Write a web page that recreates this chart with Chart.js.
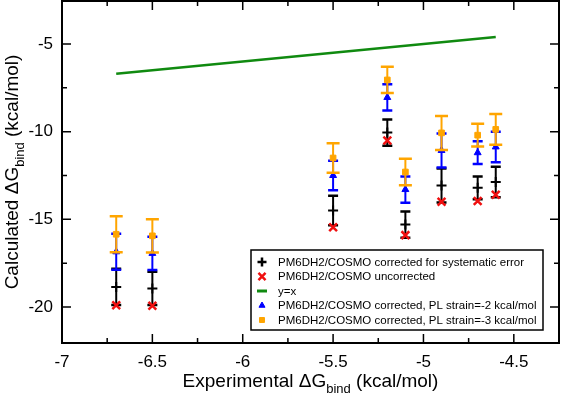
<!DOCTYPE html>
<html>
<head>
<meta charset="utf-8">
<script src="https://cdn.jsdelivr.net/npm/chart.js@4.4.1/dist/chart.umd.min.js"></script>
<style>
  html, body { margin: 0; padding: 0; background: #fff; }
</style>
</head>
<body>
<canvas id="chart" width="562" height="400"></canvas>
<script>
/* =========================
   Calculated vs experimental dG(bind)
   Chart.js v4 + small canvas plugins
========================= */

// values (kcal/mol)
const expDG       = [-6.7, -6.5, -5.5, -5.2, -5.1, -4.9, -4.7, -4.6];
const corrected   = [-18.85, -18.94, -14.5, -10.05, -15.3, -13.07, -13.2, -12.87];
const uncorrected = [-19.9, -19.93, -15.45, -10.5, -15.9, -14.0, -13.95, -13.6];
const strain2     = [-16.85, -16.94, -12.5, -8.05, -13.3, -11.07, -11.2, -10.87];
const strain3     = [-15.85, -15.94, -11.5, -7.05, -12.3, -10.07, -10.2, -9.87];
const errBars     = [1.03, 0.95, 0.84, 0.75, 0.75, 0.97, 0.65, 0.87];
const diagX       = [-6.7, -4.6];

const xTickValues  = [-7, -6.5, -6, -5.5, -5, -4.5];
const xMinorValues = [-6.75, -6.25, -5.75, -5.25, -4.75];
const yTickValues  = [-20, -15, -10, -5];
const yMinorValues = [-17.5, -12.5, -7.5];

const FONT = "'Liberation Sans', Arial, Helvetica, sans-serif";

function pairs(xs, ys) {
  return xs.map((x, i) => ({ x, y: ys[i] }));
}

/* -------------------------------------------------
   PLUGINS
------------------------------------------------- */

// vertical error bars, drawn just under each dataset's markers
const errorBarPlugin = {
  id: "errorBars",
  beforeDatasetDraw(chart, args) {
    const ds = chart.data.datasets[args.index];
    if (!ds.errors) return;
    const { ctx, scales } = chart;
    const half = ds.capWidth / 2;
    ctx.save();
    ctx.strokeStyle = ds.borderColor;
    args.meta.data.forEach((pt, i) => {
      const v = ds.data[i].y;
      const e = ds.errors[i];
      const yTop = scales.y.getPixelForValue(v + e);
      const yBot = scales.y.getPixelForValue(v - e);
      ctx.lineWidth = 2;
      ctx.beginPath();
      ctx.moveTo(pt.x, yTop);
      ctx.lineTo(pt.x, yBot);
      ctx.stroke();
      ctx.lineWidth = 2.5;
      ctx.beginPath();
      ctx.moveTo(pt.x - half, yTop); ctx.lineTo(pt.x + half, yTop);
      ctx.moveTo(pt.x - half, yBot); ctx.lineTo(pt.x + half, yBot);
      ctx.stroke();
    });
    ctx.restore();
  }
};

// box around the plot, inward ticks on all four sides, tick labels
const framePlugin = {
  id: "frame",
  beforeDatasetsDraw(chart) {
    const { ctx, chartArea: a, scales } = chart;
    ctx.save();
    ctx.strokeStyle = "#000";
    ctx.lineWidth = 1.5;
    ctx.beginPath();
    const tickX = (vals, len) => {
      vals.forEach(v => {
        const x = scales.x.getPixelForValue(v);
        ctx.moveTo(x, a.bottom); ctx.lineTo(x, a.bottom - len);
        ctx.moveTo(x, a.top);    ctx.lineTo(x, a.top + len);
      });
    };
    const tickY = (vals, len) => {
      vals.forEach(v => {
        const y = scales.y.getPixelForValue(v);
        ctx.moveTo(a.left, y);  ctx.lineTo(a.left + len, y);
        ctx.moveTo(a.right, y); ctx.lineTo(a.right - len, y);
      });
    };
    tickX(xTickValues, 9);
    tickX(xMinorValues, 5);
    tickY(yTickValues, 9);
    tickY(yMinorValues, 5);
    ctx.stroke();
    ctx.lineWidth = 2;
    ctx.strokeRect(a.left, a.top, a.right - a.left, a.bottom - a.top);

    // tick labels
    ctx.fillStyle = "#000";
    ctx.font = `17px ${FONT}`;
    ctx.textAlign = "center";
    ctx.textBaseline = "alphabetic";
    xTickValues.forEach(v => {
      ctx.fillText(String(v), scales.x.getPixelForValue(v), a.bottom + 24);
    });
    ctx.textAlign = "right";
    ctx.textBaseline = "middle";
    yTickValues.forEach(v => {
      ctx.fillText(String(v), a.left - 9, scales.y.getPixelForValue(v));
    });
    ctx.restore();
  }
};

// text with a subscript part: [main, sub, rest]
function drawSubTitle(ctx, parts, cx, baseline) {
  const big = `19px ${FONT}`;
  const small = `13px ${FONT}`;
  ctx.font = big;   const w0 = ctx.measureText(parts[0]).width;
  const w2 = ctx.measureText(parts[2]).width;
  ctx.font = small; const w1 = ctx.measureText(parts[1]).width;
  let x = cx - (w0 + w1 + w2) / 2;
  ctx.textAlign = "left";
  ctx.textBaseline = "alphabetic";
  ctx.fillStyle = "#000";
  ctx.font = big;   ctx.fillText(parts[0], x, baseline); x += w0;
  ctx.font = small; ctx.fillText(parts[1], x, baseline + 6); x += w1;
  ctx.font = big;   ctx.fillText(parts[2], x, baseline);
}

const axisTitlePlugin = {
  id: "axisTitles",
  afterDraw(chart) {
    const { ctx, chartArea: a } = chart;
    ctx.save();
    drawSubTitle(ctx, ["Experimental \u0394G", "bind", " (kcal/mol)"], (a.left + a.right) / 2, 387);
    ctx.translate(18, (a.top + a.bottom) / 2);
    ctx.rotate(-Math.PI / 2);
    drawSubTitle(ctx, ["Calculated \u0394G", "bind", " (kcal/mol)"], 0, 0);
    ctx.restore();
  }
};

// boxed legend inside the plot, bottom right
const boxLegendPlugin = {
  id: "boxLegend",
  afterDraw(chart) {
    const { ctx } = chart;
    const box = { x: 251, y: 250, w: 292, h: 80 };
    ctx.save();
    ctx.fillStyle = "#fff";
    ctx.fillRect(box.x, box.y, box.w, box.h);
    ctx.strokeStyle = "#000";
    ctx.lineWidth = 1.5;
    ctx.strokeRect(box.x, box.y, box.w, box.h);

    ctx.font = `11.5px ${FONT}`;
    ctx.textBaseline = "middle";
    ctx.textAlign = "left";
    chart.data.datasets.forEach((ds, i) => {
      const y = 262 + i * 14.5;
      const mx = 262;
      ctx.fillStyle = ds.backgroundColor;
      ctx.strokeStyle = ds.borderColor;
      if (ds.showLine) {
        ctx.lineWidth = 3;
        ctx.beginPath();
        ctx.moveTo(mx - 5, y); ctx.lineTo(mx + 5, y);
        ctx.stroke();
      } else {
        ctx.lineWidth = ds.legendBorder;
        Chart.helpers.drawPoint(ctx, {
          pointStyle: ds.pointStyle,
          radius: ds.legendRadius,
          borderWidth: ds.legendBorder,
          rotation: 0
        }, mx, y);
      }
      ctx.fillStyle = "#000";
      ctx.fillText(ds.label, 278, y + 0.5);
    });
    ctx.restore();
  }
};

/* -------------------------------------------------
   CHART
------------------------------------------------- */

new Chart(document.getElementById("chart"), {
  type: "scatter",
  data: {
    datasets: [
      {
        label: "PM6DH2/COSMO corrected for systematic error",
        data: pairs(expDG, corrected),
        errors: errBars, capWidth: 10,
        pointStyle: "cross", pointRadius: 5, pointBorderWidth: 2,
        borderColor: "#000", backgroundColor: "#000",
        legendRadius: 4.5, legendBorder: 2.5,
        order: 5
      },
      {
        label: "PM6DH2/COSMO uncorrected",
        data: pairs(expDG, uncorrected),
        pointStyle: "crossRot", pointRadius: 5.5, pointBorderWidth: 2.5,
        borderColor: "#f01010", backgroundColor: "#f01010",
        legendRadius: 5, legendBorder: 2.5,
        order: 4
      },
      {
        label: "y=x",
        data: pairs(diagX, diagX),
        showLine: true, pointRadius: 0, borderWidth: 2.5,
        borderColor: "#108a10", backgroundColor: "#108a10",
        order: 3
      },
      {
        label: "PM6DH2/COSMO corrected, PL strain=-2 kcal/mol",
        data: pairs(expDG, strain2),
        errors: errBars, capWidth: 10,
        pointStyle: "triangle", pointRadius: 4, pointBorderWidth: 1,
        borderColor: "#0000ff", backgroundColor: "#0000ff",
        legendRadius: 3.5, legendBorder: 1,
        order: 2
      },
      {
        label: "PM6DH2/COSMO corrected, PL strain=-3 kcal/mol",
        data: pairs(expDG, strain3),
        errors: errBars, capWidth: 13,
        pointStyle: "rect", pointRadius: 4, pointBorderWidth: 1,
        borderColor: "#ffa500", backgroundColor: "#ffa500",
        legendRadius: 3.5, legendBorder: 1,
        order: 1
      }
    ]
  },
  options: {
    responsive: false,
    devicePixelRatio: 1,
    animation: false,
    layout: { autoPadding: false, padding: { top: 1, right: 3, left: 0, bottom: 0 } },
    plugins: {
      legend:  { display: false },
      tooltip: { enabled: false }
    },
    scales: {
      x: {
        type: "linear",
        min: -7, max: -4.25,
        grid:   { display: false, drawTicks: false },
        border: { display: false },
        ticks:  { display: false },
        afterFit: s => { s.height = 57; }
      },
      y: {
        type: "linear",
        min: -22.05, max: -2.55,
        grid:   { display: false, drawTicks: false },
        border: { display: false },
        ticks:  { display: false },
        afterFit: s => { s.width = 62; }
      }
    }
  },
  plugins: [framePlugin, errorBarPlugin, axisTitlePlugin, boxLegendPlugin]
});
</script>
</body>
</html>
